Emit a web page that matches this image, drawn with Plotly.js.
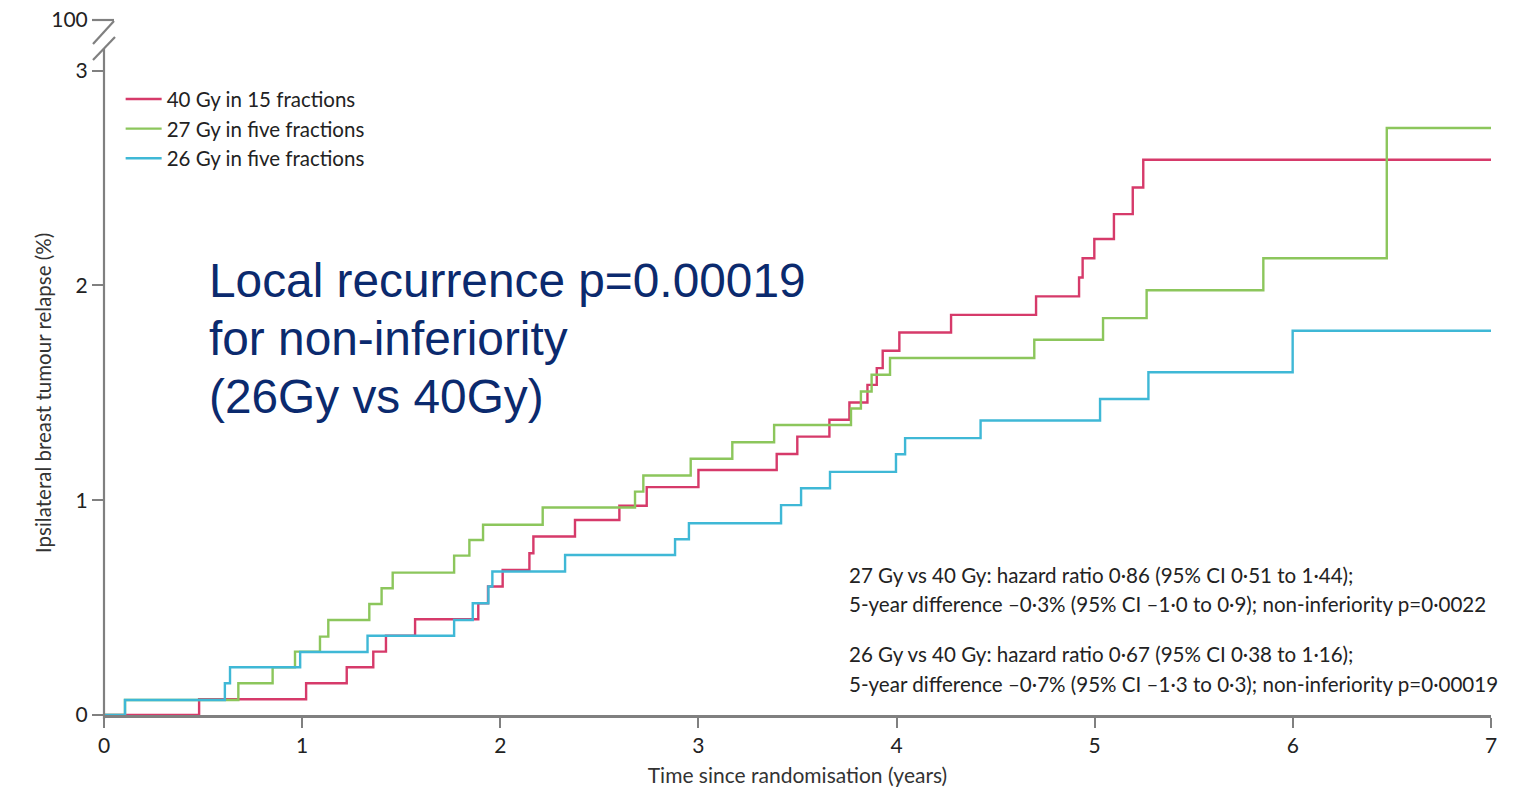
<!DOCTYPE html>
<html>
<head>
<meta charset="utf-8">
<script src="https://cdn.plot.ly/plotly-3.0.1.min.js"></script>
<style>html,body{margin:0;padding:0;background:#fff;}#chart{width:1514px;height:789px;}</style>
</head>
<body>
<div id="chart"></div>
<script>
// Kaplan-Meier style cumulative incidence (%)
const seriesNames = ['40 Gy in 15 fractions', '27 Gy in five fractions', '26 Gy in five fractions'];

const time40 = [0, 0.48, 1.02, 1.225, 1.359, 1.423, 1.57, 1.889, 1.938, 2.012, 2.147, 2.167, 2.377, 2.601, 2.739, 3.0, 3.395, 3.499, 3.661, 3.762, 3.853, 3.9, 3.93, 4.014, 4.275, 4.704, 4.921, 4.939, 4.998, 5.097, 5.192, 5.245, 7];
const relapse40 = [0, 0.073, 0.148, 0.222, 0.295, 0.369, 0.446, 0.52, 0.598, 0.675, 0.753, 0.831, 0.908, 0.974, 1.061, 1.141, 1.215, 1.296, 1.375, 1.455, 1.537, 1.615, 1.696, 1.781, 1.863, 1.949, 2.037, 2.127, 2.216, 2.332, 2.456, 2.585, 2.585];

const time27 = [0, 0.106, 0.678, 0.851, 0.964, 1.09, 1.132, 1.339, 1.401, 1.457, 1.767, 1.844, 1.913, 2.214, 2.68, 2.722, 2.961, 3.171, 3.382, 3.77, 3.82, 3.874, 3.967, 4.695, 5.042, 5.262, 5.851, 6.474, 7];
const relapse27 = [0, 0.07, 0.148, 0.222, 0.295, 0.365, 0.442, 0.517, 0.59, 0.663, 0.742, 0.815, 0.886, 0.966, 1.04, 1.115, 1.193, 1.27, 1.35, 1.427, 1.506, 1.584, 1.662, 1.747, 1.848, 1.978, 2.127, 2.733, 2.733];

const time26 = [0, 0.106, 0.61, 0.636, 0.99, 1.33, 1.767, 1.861, 1.94, 1.96, 2.327, 2.882, 2.952, 3.417, 3.518, 3.664, 3.997, 4.043, 4.424, 5.027, 5.271, 5.999, 7];
const relapse26 = [0, 0.07, 0.148, 0.222, 0.293, 0.369, 0.442, 0.52, 0.598, 0.668, 0.745, 0.818, 0.893, 0.977, 1.056, 1.132, 1.214, 1.289, 1.371, 1.471, 1.596, 1.789, 1.789];

const xTicks = [0, 1, 2, 3, 4, 5, 6, 7];
const yTickVals = [0, 1, 2, 3, 3.236];
const yTickText = ['0', '1', '2', '3', '100'];

const xTitle = 'Time since randomisation (years)';
const yTitle = 'Ipsilateral breast tumour relapse (%)';
const bigNote = ['Local recurrence p=0.00019', 'for non-inferiority', '(26Gy vs 40Gy)'];
const statLines = [
  '27 Gy vs 40 Gy: hazard ratio 0·86 (95% CI 0·51 to 1·44);',
  '5-year difference –0·3% (95% CI –1·0 to 0·9); non-inferiority p=0·0022',
  '26 Gy vs 40 Gy: hazard ratio 0·67 (95% CI 0·38 to 1·16);',
  '5-year difference –0·7% (95% CI –1·3 to 0·3); non-inferiority p=0·00019'
];

const colors = ['#d63a6a', '#8cc65c', '#3fb8d6'];
const FONT = 'Lato, "Liberation Sans", sans-serif';
const AXIS = '#808080';

function trace(x, y, name, color) {
  return {x: x, y: y, name: name, type: 'scatter', mode: 'lines',
    line: {shape: 'hv', color: color, width: 2.4}, hoverinfo: 'skip'};
}

const data = [
  trace(time40, relapse40, seriesNames[0], colors[0]),
  trace(time27, relapse27, seriesNames[1], colors[1]),
  trace(time26, relapse26, seriesNames[2], colors[2])
];

// plot area: x 104..1491 px, y 17..715 px
const L = 104, T = 17, W = 1387, H = 698;
const px = v => (v - L) / W;
const py = v => (T + H - v) / H;
function seg(x0, y0, x1, y1) {
  return {type: 'line', xref: 'paper', yref: 'paper', x0: px(x0), y0: py(y0), x1: px(x1), y1: py(y1),
    line: {color: AXIS, width: 2.2}, layer: 'above'};
}

const shapes = [
  seg(104, 719, 104, 49),   // y axis line (broken)
  seg(92, 20, 114, 20),
  seg(114, 21, 93, 44),
  seg(115, 37, 93, 60)
];

const annotations = [
  {xref: 'paper', yref: 'paper', x: px(29), y: py(393), text: yTitle, textangle: -90, showarrow: false,
   font: {family: FONT, size: 20.5, color: '#333'}}
];
const statY = [575, 604, 654, 684];
statLines.forEach((t, i) => annotations.push({xref: 'paper', yref: 'paper', x: px(847), y: py(statY[i]),
  xanchor: 'left', yanchor: 'middle', align: 'left', text: t, showarrow: false,
  font: {family: FONT, size: 20.55, color: '#222'}}));
const bigY = [280, 338, 396];
bigNote.forEach((t, i) => annotations.push({xref: 'paper', yref: 'paper', x: px(207), y: py(bigY[i]),
  xanchor: 'left', yanchor: 'middle', text: t, showarrow: false,
  font: {family: '"Liberation Sans", Arial, sans-serif', size: 47.8, color: '#0b2a6e'}}));

const layout = {
  width: 1514, height: 789,
  margin: {l: L, r: 23, t: T, b: 74},
  paper_bgcolor: '#fff', plot_bgcolor: '#fff',
  showlegend: true,
  legend: {x: 0.012, y: 0.911, xanchor: 'left', yanchor: 'top', bgcolor: 'rgba(0,0,0,0)',
    itemwidth: 36, font: {family: FONT, size: 20.5, color: '#222'}, tracegroupgap: 0},
  xaxis: {range: [0, 7], tickvals: xTicks, ticks: 'outside', ticklen: 10, tickwidth: 2, tickcolor: AXIS,
    showline: true, linecolor: AXIS, linewidth: 2.5, showgrid: false, zeroline: false,
    tickfont: {family: FONT, size: 21, color: '#222'},
    title: {text: xTitle, font: {family: FONT, size: 21, color: '#333'}, standoff: 13}},
  yaxis: {range: [0, 3.25], tickvals: yTickVals, ticktext: yTickText, ticks: 'outside', ticklen: 11, tickwidth: 2,
    tickcolor: AXIS, showline: false, showgrid: false, zeroline: false,
    tickfont: {family: FONT, size: 21, color: '#222'}},
  shapes: shapes,
  annotations: annotations
};

Plotly.newPlot('chart', data, layout, {displayModeBar: false, staticPlot: true});
</script>
</body>
</html>
